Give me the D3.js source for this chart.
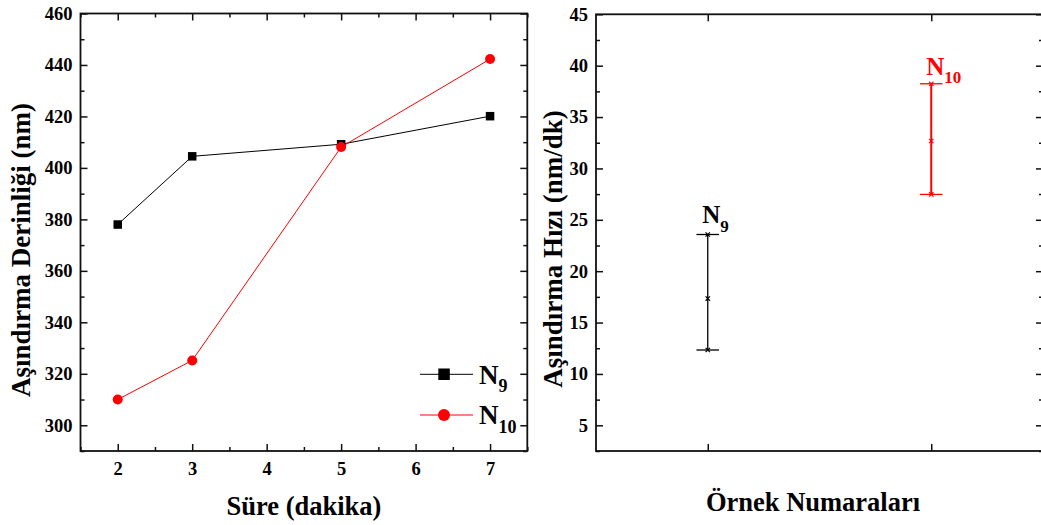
<!DOCTYPE html>
<html><head><meta charset="utf-8">
<script src="https://cdn.jsdelivr.net/npm/d3@7"></script>
<style>body{margin:0;background:#fff}svg{display:block}</style>
</head><body>
<script>
// ---- data ----
const timeMinutes = [2, 3, 5, 7];
const depthN9 = [378.0, 404.5, 409.2, 420.1];
const depthN10 = [310.0, 325.2, 408.1, 442.3];
const seriesNames = ["N9", "N10"];
const samplePositions = [1, 2];
const sampleLabels = ["9", "10"];
const rateMean = [17.33, 32.67];
const rateLow = [12.33, 27.47];
const rateHigh = [23.57, 38.24];
const leftYTicks = [300, 320, 340, 360, 380, 400, 420, 440, 460];
const leftXTicks = [2, 3, 4, 5, 6, 7];
const rightYTicks = [5, 10, 15, 20, 25, 30, 35, 40, 45];

const FONT = "'Liberation Serif'";
const W = 1041, H = 525;
const svg = d3.select("body").append("svg").attr("width", W).attr("height", H);

function frame(g, x0, x1, y0, y1) {
  g.append("rect").attr("x", x0).attr("y", y0).attr("width", x1 - x0).attr("height", y1 - y0)
    .attr("fill", "none").attr("stroke", "#111").attr("stroke-width", 1.8);
}
function styleAxis(a, fs) {
  a.attr("font-family", null).attr("font-size", null);
  a.select(".domain").remove();
  a.selectAll("line").attr("stroke", "#111").attr("stroke-width", 1.5);
  a.selectAll("text").attr("font-size", fs).attr("fill", "#000").attr("font-weight", "bold")
    .style("font-family", FONT);
}
function txt(g) {
  return g.append("text").style("font-family", FONT).attr("font-weight", "bold");
}
const TFS = 18.5;

// ---- left chart ----
const L = {x0: 80.5, x1: 527.3, y0: 13.5, y1: 451};
const xL = d3.scaleLinear().domain([1.5, 7.5]).range([L.x0, L.x1]);
const yL = d3.scaleLinear().domain([290, 460]).range([L.y1, L.y0]);
const gL = svg.append("g");
const minorXL = d3.range(1.5, 7.51, 0.5).filter(v => !Number.isInteger(v));
const minorYL = d3.range(290, 461, 20);

let a = gL.append("g").attr("transform", `translate(0,${L.y1})`)
  .call(d3.axisBottom(xL).tickValues(leftXTicks).tickSize(-7).tickPadding(11).tickFormat(d3.format("d")));
styleAxis(a, TFS);
a = gL.append("g").attr("transform", `translate(0,${L.y1})`)
  .call(d3.axisBottom(xL).tickValues(minorXL).tickSize(-4).tickFormat(""));
styleAxis(a, TFS);
a = gL.append("g").attr("transform", `translate(0,${L.y0})`)
  .call(d3.axisTop(xL).tickValues(leftXTicks).tickSize(-7).tickFormat(""));
styleAxis(a, TFS);
a = gL.append("g").attr("transform", `translate(0,${L.y0})`)
  .call(d3.axisTop(xL).tickValues(minorXL).tickSize(-4).tickFormat(""));
styleAxis(a, TFS);
a = gL.append("g").attr("transform", `translate(${L.x0},0)`)
  .call(d3.axisLeft(yL).tickValues(leftYTicks).tickSize(-7).tickPadding(8).tickFormat(d3.format("d")));
styleAxis(a, TFS);
a = gL.append("g").attr("transform", `translate(${L.x0},0)`)
  .call(d3.axisLeft(yL).tickValues(minorYL).tickSize(-4).tickFormat(""));
styleAxis(a, TFS);
a = gL.append("g").attr("transform", `translate(${L.x1},0)`)
  .call(d3.axisRight(yL).tickValues(leftYTicks).tickSize(-7).tickFormat(""));
styleAxis(a, TFS);
a = gL.append("g").attr("transform", `translate(${L.x1},0)`)
  .call(d3.axisRight(yL).tickValues(minorYL).tickSize(-4).tickFormat(""));
styleAxis(a, TFS);
frame(gL, L.x0, L.x1, L.y0, L.y1);

const line = d3.line().x(d => xL(d[0])).y(d => yL(d[1]));
const d9 = timeMinutes.map((t, i) => [t, depthN9[i]]);
const d10 = timeMinutes.map((t, i) => [t, depthN10[i]]);
gL.append("path").attr("d", line(d9)).attr("fill", "none").attr("stroke", "#000").attr("stroke-width", 1);
gL.append("path").attr("d", line(d10)).attr("fill", "none").attr("stroke", "#ff0000").attr("stroke-width", 1);
gL.selectAll(".sq").data(d9).join("rect")
  .attr("x", d => xL(d[0]) - 4.25).attr("y", d => yL(d[1]) - 4.25).attr("width", 8.5).attr("height", 8.5).attr("fill", "#000");
gL.selectAll(".ci").data(d10).join("circle")
  .attr("cx", d => xL(d[0])).attr("cy", d => yL(d[1])).attr("r", 5).attr("fill", "#ff0000");

const leg = gL.append("g");
leg.append("line").attr("x1", 420).attr("x2", 473).attr("y1", 374.3).attr("y2", 374.3).attr("stroke", "#000").attr("stroke-width", 1);
leg.append("rect").attr("x", 438.3).attr("y", 368.5).attr("width", 11.5).attr("height", 11.5).attr("fill", "#000");
leg.append("line").attr("x1", 420).attr("x2", 473).attr("y1", 415).attr("y2", 415).attr("stroke", "#ff0000").attr("stroke-width", 1);
leg.append("circle").attr("cx", 444).attr("cy", 415).attr("r", 6).attr("fill", "#ff0000");
function nLabel(g, x, y, sub, color, fs, sfs, dy) {
  const t = txt(g).attr("x", x).attr("y", y).attr("fill", color).attr("font-size", fs);
  t.append("tspan").text("N");
  t.append("tspan").attr("dy", dy).attr("font-size", sfs).text(sub);
}
nLabel(leg, 479, 384, sampleLabels[0], "#000", 27, 18, 8);
nLabel(leg, 479, 424.3, sampleLabels[1], "#000", 27, 18, 9);

txt(gL).attr("x", 304).attr("y", 514.5).attr("text-anchor", "middle").attr("font-size", 26.5).text("Süre (dakika)");
txt(gL).attr("transform", "translate(29.5,250) rotate(-90)").attr("text-anchor", "middle").attr("font-size", 27).text("Aşındırma Derinliği (nm)");

// ---- right chart ----
const R = {x0: 596, x1: 1043, y0: 14.3, y1: 451};
const xR = d3.scaleLinear().domain([0.5, 2.5]).range([R.x0, R.x1]);
const yR = d3.scaleLinear().domain([2.5, 45]).range([R.y1, R.y0]);
const gR = svg.append("g");
const minorYR = d3.range(2.5, 45, 5);

a = gR.append("g").attr("transform", `translate(0,${R.y1})`)
  .call(d3.axisBottom(xR).tickValues(samplePositions).tickSize(-7).tickFormat(""));
styleAxis(a, TFS);
a = gR.append("g").attr("transform", `translate(0,${R.y0})`)
  .call(d3.axisTop(xR).tickValues(samplePositions).tickSize(-7).tickFormat(""));
styleAxis(a, TFS);
a = gR.append("g").attr("transform", `translate(${R.x0},0)`)
  .call(d3.axisLeft(yR).tickValues(rightYTicks).tickSize(-7).tickPadding(8).tickFormat(d3.format("d")));
styleAxis(a, TFS);
a = gR.append("g").attr("transform", `translate(${R.x0},0)`)
  .call(d3.axisLeft(yR).tickValues(minorYR).tickSize(-4).tickFormat(""));
styleAxis(a, TFS);
a = gR.append("g").attr("transform", `translate(${R.x1},0)`)
  .call(d3.axisRight(yR).tickValues(rightYTicks).tickSize(-7).tickFormat(""));
styleAxis(a, TFS);
a = gR.append("g").attr("transform", `translate(${R.x1},0)`)
  .call(d3.axisRight(yR).tickValues(minorYR).tickSize(-4).tickFormat(""));
styleAxis(a, TFS);
frame(gR, R.x0, R.x1, R.y0, R.y1);

const colors = ["#000", "#ff0000"];
const widths = [1.3, 2];
const sym = d3.symbol().type(d3.symbolX).size(14);
samplePositions.forEach((p, i) => {
  const cx = xR(p), c = colors[i];
  gR.append("line").attr("x1", cx).attr("x2", cx).attr("y1", yR(rateLow[i])).attr("y2", yR(rateHigh[i]))
    .attr("stroke", c).attr("stroke-width", widths[i]);
  [rateLow[i], rateHigh[i]].forEach(v => {
    gR.append("line").attr("x1", cx - 11.3).attr("x2", cx + 11.3).attr("y1", yR(v)).attr("y2", yR(v))
      .attr("stroke", c).attr("stroke-width", 1.3);
  });
  [rateLow[i], rateMean[i], rateHigh[i]].forEach(v => {
    gR.append("path").attr("d", sym()).attr("transform", `translate(${cx},${yR(v)})`)
      .attr("fill", "none").attr("stroke", c).attr("stroke-width", 1.2);
  });
});
nLabel(gR, xR(samplePositions[0]) - 5.5, yR(rateHigh[0]) - 11, sampleLabels[0], colors[0], 25, 17, 8.4);
nLabel(gR, xR(samplePositions[1]) - 5, yR(rateHigh[1]) - 9, sampleLabels[1], colors[1], 25, 17, 8.3);

txt(gR).attr("x", 813).attr("y", 511).attr("text-anchor", "middle").attr("font-size", 26.5).text("Örnek Numaraları");
txt(gR).attr("transform", "translate(562,249) rotate(-90)").attr("text-anchor", "middle").attr("font-size", 27).text("Aşındırma Hızı (nm/dk)");
</script>
</body></html>
